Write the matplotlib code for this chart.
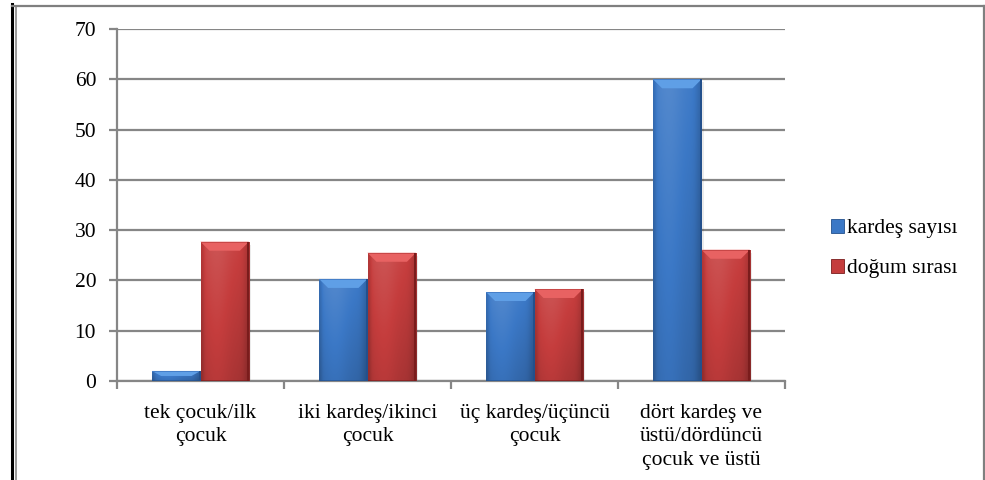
import numpy as np
import matplotlib
matplotlib.use("Agg")
import matplotlib.pyplot as plt
from matplotlib.patches import Polygon, Patch
from matplotlib.lines import Line2D
from matplotlib.colors import to_rgb

plt.rcParams['font.family'] = ['Liberation Serif', 'DejaVu Serif']

categories = ["tek çocuk/ilk\nçocuk", "iki kardeş/ikinci\nçocuk",
              "üç kardeş/üçüncü\nçocuk", "dört kardeş ve\nüstü/dördüncü\nçocuk ve üstü"]
series_names = ["kardeş sayısı", "doğum sırası"]
kardes_sayisi = [2.0, 20.3, 17.7, 60.0]
dogum_sirasi = [27.7, 25.5, 18.3, 26.1]
yticks = [0, 10, 20, 30, 40, 50, 60, 70]

base_colors = ["#3b78c6", "#c53d3d"]
light_colors = ["#5f9fe6", "#e86262"]
dark_colors = ["#23508c", "#7a1c1c"]

FS = 15.5
W, H = 985, 480
fig = plt.figure(figsize=(W / 100, H / 100), dpi=100)
fig.patch.set_facecolor("white")

left, right, top, bottom = 117, 785, 29, 381
ax = fig.add_axes([left / W, 1 - bottom / H, (right - left) / W, (bottom - top) / H])
ax.set_xlim(0, len(categories))
ax.set_ylim(0, 70)

gray = "#868686"
ax.set_yticks(yticks)
ax.yaxis.grid(True, color=gray, linewidth=1.6)
ax.set_axisbelow(True)
for s in ["top", "right"]:
    ax.spines[s].set_visible(False)
for s in ["left", "bottom"]:
    ax.spines[s].set_color(gray)
    ax.spines[s].set_linewidth(1.6)
ax.tick_params(axis="y", direction="out", length=6, width=1.6, color=gray,
               labelsize=FS, pad=9, labelcolor="black")
ax.set_xticks(np.arange(0, len(categories) + 1))
ax.tick_params(axis="x", direction="out", length=6, width=1.6, color=gray,
               labelbottom=False)
for i, c in enumerate(categories):
    ax.text(i + 0.5, -4.5, c, ha="center", va="top", fontsize=FS,
            linespacing=1.32)

bar_w = 0.29
x = np.arange(len(categories)) + 0.5


def shade(c, f):
    c = np.array(to_rgb(c))
    if f >= 0:
        return c + (1 - c) * f
    return c * (1 + f)


def gradient_image(base):
    n = 64
    t = np.linspace(0, 1, n)
    # horizontal profile: darker edges, brighter left third
    prof = 0.10 * np.exp(-((t - 0.32) / 0.3) ** 2) - 0.16 * np.exp(-((t - 1.0) / 0.12) ** 2) \
        - 0.14 * np.exp(-((t - 0.0) / 0.06) ** 2)
    b = np.array(to_rgb(base))
    rows = 32
    img = np.zeros((rows, n, 4))
    vert = np.linspace(0.02, -0.16, rows)  # top to bottom
    for r in range(rows):
        f = prof + vert[r]
        pos = f >= 0
        col = np.where(pos[:, None], b + (1 - b) * f[:, None], b * (1 + f[:, None]))
        img[r, :, :3] = np.clip(col, 0, 1)
        img[r, :, 3] = 1
    return img


px_per_x = (right - left) / len(categories)
px_per_y = (bottom - top) / 70.0

for si, vals in enumerate([kardes_sayisi, dogum_sirasi]):
    offs = (si - 0.5) * bar_w
    bars = ax.bar(x + offs, vals, width=bar_w, color=base_colors[si],
                  edgecolor="none", zorder=3)
    img = gradient_image(base_colors[si])
    for b in bars:
        x0, w, h = b.get_x(), b.get_width(), b.get_height()
        # soft shadow to the right
        sh = Polygon([(x0 + 2 / px_per_x, 0), (x0 + w + 2 / px_per_x, 0),
                      (x0 + w + 2 / px_per_x, h - 3 / px_per_y), (x0 + 2 / px_per_x, h - 3 / px_per_y)],
                     closed=True, facecolor="#000000", alpha=0.08, edgecolor="none", zorder=2.5)
        ax.add_patch(sh)
        im = ax.imshow(img, extent=(x0, x0 + w, 0, h), aspect="auto", zorder=3.1,
                       interpolation="bilinear")
        im.set_clip_path(b)
        bx = min(9 / px_per_x, w / 2)
        by = min(9 / px_per_y, h * 0.5)
        top_bevel = Polygon([(x0, h), (x0 + w, h), (x0 + w - bx, h - by), (x0 + bx, h - by)],
                            closed=True, facecolor=light_colors[si], edgecolor="none", zorder=3.3)
        ax.add_patch(top_bevel)
        ax.add_patch(Polygon([(x0, h), (x0 + w, h), (x0 + w, h - 1.2 / px_per_y), (x0, h - 1.2 / px_per_y)],
                             closed=True, facecolor=shade(base_colors[si], 0.05), edgecolor="none", zorder=3.4))
        ax.add_patch(Polygon([(x0 + w, h), (x0 + w - 2 / px_per_x, h), (x0 + w - 2 / px_per_x, 0), (x0 + w, 0)],
                             closed=True, facecolor=dark_colors[si], edgecolor="none", zorder=3.4))
        ax.add_patch(Polygon([(x0, 0), (x0 + w, 0), (x0 + w, 1.5 / px_per_y), (x0, 1.5 / px_per_y)],
                             closed=True, facecolor=dark_colors[si], alpha=0.6, edgecolor="none", zorder=3.4))

handles = [Patch(facecolor=base_colors[i], edgecolor=dark_colors[i], linewidth=0.6)
           for i in range(2)]
fig.legend(handles, series_names, loc="upper left", bbox_to_anchor=(831 / W, 1 - 219 / H),
           frameon=False, fontsize=FS, handlelength=0.6, handleheight=0.6,
           handletextpad=0.15, labelspacing=0.95, borderpad=0, borderaxespad=0)

# outer frame
fig.add_artist(Line2D([11.5 / W, 11.5 / W], [0, 1 - 4 / H], color="black", linewidth=2.2,
                      transform=fig.transFigure))
fig.add_artist(Line2D([15.5 / W, 15.5 / W], [0, 1 - 6 / H], color="#9a9a9a", linewidth=1.4,
                      transform=fig.transFigure))
fig.add_artist(Line2D([12 / W, 984 / W], [1 - 5.5 / H, 1 - 5.5 / H], color="#7f7f7f", linewidth=1.6,
                      transform=fig.transFigure))
fig.add_artist(Line2D([983.5 / W, 983.5 / W], [0, 1 - 5.5 / H], color="#7f7f7f", linewidth=1.6,
                      transform=fig.transFigure))

fig.savefig("out.png", dpi=100, facecolor="white")
